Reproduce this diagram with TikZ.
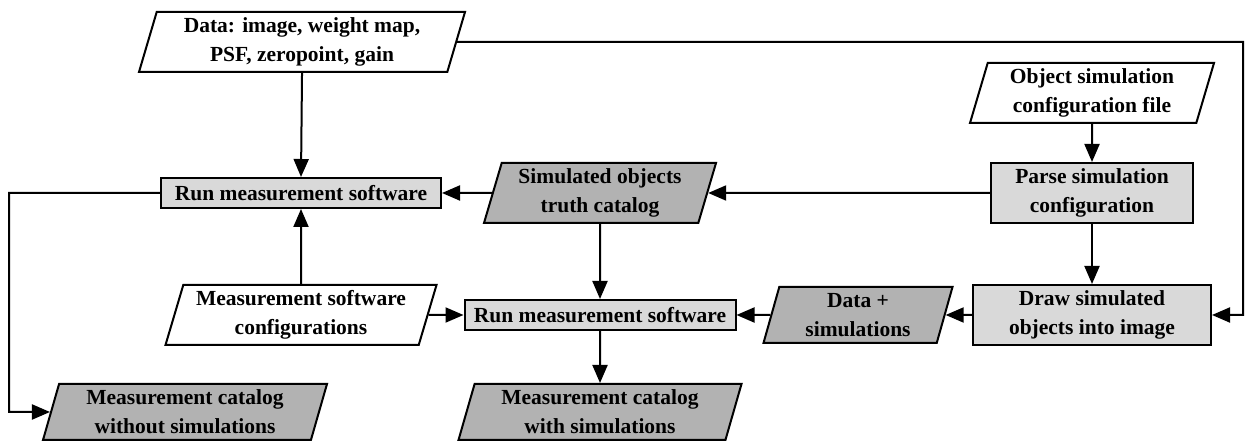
\documentclass[tikz,border=0pt]{standalone}
\usepackage{fontspec}
\setmainfont{Liberation Serif}
\usetikzlibrary{shapes.geometric,arrows.meta}
\definecolor{lightfill}{HTML}{D9D9D9}
\definecolor{darkfill}{HTML}{B2B2B2}
\begin{document}
\begin{tikzpicture}[x=1pt,y=1pt,
  every node/.style={font=\fontsize{21.5}{29}\selectfont\bfseries, align=center, line width=2pt},
  procbox/.style={draw, fill=lightfill, inner sep=0pt},
  para/.style={draw, trapezium, trapezium left angle=70, trapezium right angle=110,
     trapezium stretches body=true, inner sep=0pt, minimum height=60pt},
  inpara/.style={para, fill=white},
  outpara/.style={para, fill=darkfill},
  conn/.style={line width=2pt, -{Triangle[length=18pt,width=15pt]}},
  plain/.style={line width=2pt}
]
\useasboundingbox (0,0) rectangle (1247,443);
\node[inpara, minimum width=326pt] (data) at (302,401) {Data: image, weight map,\\PSF, zeropoint, gain};
\node[procbox, minimum width=280pt, minimum height=30pt] (run1) at (301,250) {Run measurement software};
\node[outpara, minimum width=232pt] (sim) at (600,250) {Simulated objects\\truth catalog};
\node[procbox, minimum width=202pt, minimum height=60pt] (parse) at (1092,250) {Parse simulation\\configuration};
\node[inpara, minimum width=244pt] (obj) at (1092,350) {Object simulation\\configuration file};
\node[procbox, minimum width=238pt, minimum height=60pt] (draw) at (1092,128) {Draw simulated\\objects into image};
\node[outpara, minimum width=189pt, minimum height=56pt] (datasim) at (858,128) {Data +\\simulations};
\node[procbox, minimum width=271pt, minimum height=30pt] (run2) at (600,128) {Run measurement software};
\node[inpara, minimum width=271pt] (mcfg) at (301,128) {Measurement software\\configurations};
\node[outpara, minimum width=284pt, minimum height=56pt] (mcw) at (185,31) {Measurement catalog\\without simulations};
\node[outpara, minimum width=283pt, minimum height=56pt] (mcs) at (600,31) {Measurement catalog\\with simulations};
\coordinate (rtop) at (1243,401);
\coordinate (rbot) at (1243,128);
\coordinate (ltop) at (9,250);
\coordinate (lbot) at (9,31);
\draw[conn] (data.south) -- (run1.north);
\draw[conn] (mcfg.north) -- (run1.south);
\draw[conn] (sim.west) -- (run1.east);
\draw[conn] (parse.west) -- (sim.east);
\draw[conn] (obj.south) -- (parse.north);
\draw[conn] (parse.south) -- (draw.north);
\draw[conn] (draw.west) -- (datasim.east);
\draw[conn] (datasim.west) -- (run2.east);
\draw[conn] (mcfg.east) -- (run2.west);
\draw[conn] (sim.south) -- (run2.north);
\draw[conn] (run2.south) -- (mcs.north);
\draw[conn] (run1.west) -- (ltop) -- (lbot) -- (mcw.west);
\draw[conn] (data.east) -- (rtop) -- (rbot) -- (draw.east);
\end{tikzpicture}
\end{document}
